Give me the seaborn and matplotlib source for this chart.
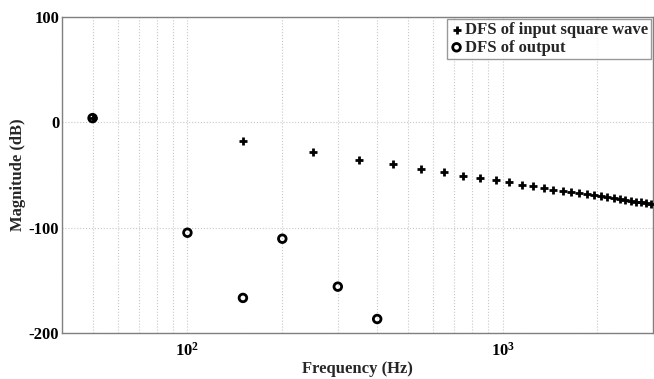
import matplotlib
matplotlib.use("Agg")
import matplotlib.pyplot as plt
import seaborn as sns
import pandas as pd
import numpy as np
from matplotlib.ticker import LogLocator, FixedLocator, NullFormatter

sns.set_theme(style="white")
plt.rcParams['font.family'] = ['Liberation Serif', 'DejaVu Serif']
plt.rcParams['font.weight'] = 'bold'
plt.rcParams['axes.unicode_minus'] = False
plt.rcParams['mathtext.fontset'] = 'custom'
plt.rcParams['mathtext.rm'] = 'Liberation Serif:bold'
plt.rcParams['mathtext.it'] = 'Liberation Serif:bold'
plt.rcParams['mathtext.bf'] = 'Liberation Serif:bold'

# Data
input_freq = [50, 150, 250, 350, 450, 550, 650, 750, 850, 950, 1050, 1150, 1250, 1350,
              1450, 1550, 1650, 1750, 1850, 1950, 2050, 2150, 2250, 2350, 2450, 2550,
              2650, 2750, 2850, 2950]
input_mag = [4, -18.1, -28.6, -35.5, -40.0, -44.0, -47.6, -50.5, -52.7, -55.2, -57.1, -59.4,
             -60.3, -61.9, -63.8, -65.4, -66.3, -67.3, -68.4, -69.4, -70.4, -71.3, -72.2,
             -73.1, -73.9, -74.7, -75.4, -76.1, -76.8, -77.5]
output_freq = [50, 100, 150, 200, 300, 400]
output_mag = [4, -104.8, -166.7, -110.5, -156.0, -186.7]

df_in = pd.DataFrame({"Frequency": input_freq, "Magnitude": input_mag})
df_out = pd.DataFrame({"Frequency": output_freq, "Magnitude": output_mag})

fig = plt.figure(figsize=(6.54, 3.79), dpi=100)
ax = fig.add_axes([62/654, 46/379, 591/654, 316/379])

sns.scatterplot(data=df_in, x="Frequency", y="Magnitude", marker="+", s=40,
                color="black", linewidth=2, ax=ax, label="DFS of input square wave", zorder=3)
sns.scatterplot(data=df_out, x="Frequency", y="Magnitude", marker="o", s=30,
                facecolor="none", edgecolor="black", linewidth=2, ax=ax,
                label="DFS of output", zorder=3)

ax.set_xscale("log")
ax.set_xlim(40, 3000)
ax.set_ylim(-200, 100)
ax.yaxis.set_major_locator(FixedLocator([-200, -100, 0, 100]))
ax.xaxis.set_major_locator(LogLocator(base=10, numticks=10))
ax.xaxis.set_minor_locator(LogLocator(base=10, subs=np.arange(2, 10), numticks=20))
ax.xaxis.set_minor_formatter(NullFormatter())

ax.grid(True, which="major", color="#c8c8c8", linestyle=":", linewidth=0.8)
ax.grid(True, which="minor", axis="x", color="#c8c8c8", linestyle=":", linewidth=0.8)

for sp in ax.spines.values():
    sp.set_color("#808080")
    sp.set_linewidth(1.0)

ax.tick_params(axis="both", which="both", direction="in", colors="#808080",
               labelcolor="black", labelsize=12)
ax.tick_params(which="major", length=5)
ax.tick_params(which="minor", length=3)
ax.tick_params(axis="x", which="major", pad=6)
ax.tick_params(axis="y", which="major", pad=2)
for lbl in ax.get_xticklabels() + ax.get_yticklabels():
    lbl.set_fontweight("bold")

ax.set_xlabel("Frequency (Hz)", fontsize=12, fontweight="bold", labelpad=1)
ax.set_ylabel("Magnitude (dB)", fontsize=12, fontweight="bold", labelpad=2)

leg = ax.legend(loc="upper right", frameon=True, fancybox=False,
                handletextpad=0.1, handlelength=0.8, borderpad=0.2, labelspacing=0.1,
                borderaxespad=0.1, prop={"weight": "bold", "size": 12})
leg.get_frame().set_edgecolor("#808080")
leg.get_frame().set_linewidth(1.0)

fig.savefig("out.png", dpi=100)
